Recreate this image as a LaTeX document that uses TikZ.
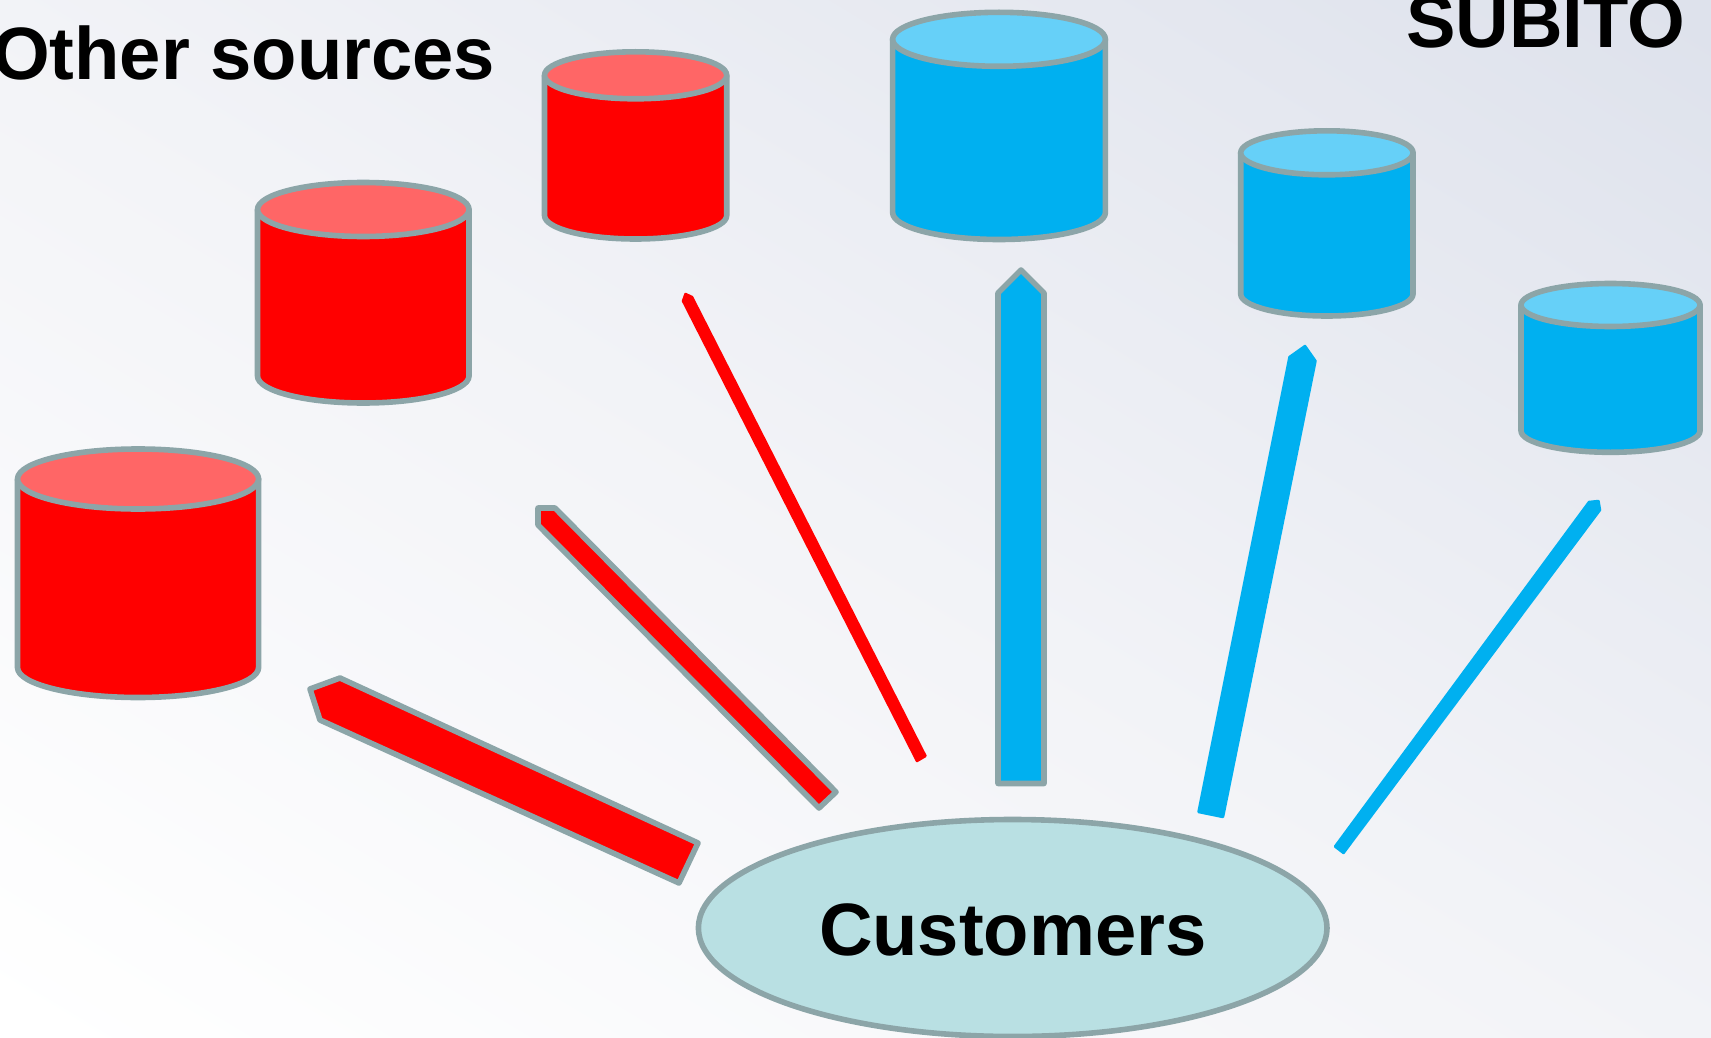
\documentclass[tikz,border=0pt]{standalone}
\usepackage{fontspec}
\setmainfont{Liberation Sans}
\usetikzlibrary{shapes.geometric}
\definecolor{edgegrey}{HTML}{8CA5A8}
\definecolor{redbody}{HTML}{FF0000}
\definecolor{redtop}{HTML}{FF6666}
\definecolor{bluebody}{HTML}{00B0F0}
\definecolor{bluetop}{HTML}{66D0F8}
\definecolor{custfill}{HTML}{B9E0E3}
\definecolor{bgdark}{HTML}{DEE2EC}
\definecolor{bgmid}{HTML}{F2F3F7}
\pgfdeclareverticalshading{bgfade}{100bp}{
  color(0bp)=(white); color(32bp)=(white); color(50bp)=(bgmid); color(68bp)=(bgdark); color(100bp)=(bgdark)}
\tikzset{
  edged/.style={draw=edgegrey,line width=5.6pt,line join=round},
  redblock/.style={edged,fill=redbody},
  blueblock/.style={edged,fill=bluebody},
  redplain/.style={fill=redbody,draw=redbody,line width=2.5pt,line join=round},
  blueplain/.style={fill=bluebody,draw=bluebody,line width=2.5pt,line join=round},
  headline/.style={font=\fontsize{74.2}{74.2}\selectfont\bfseries,text=black,anchor=base west,inner sep=0pt,outer sep=0pt},
}
% name, x1, x2, top centre y, ry, bottom y, body, top
\newcommand{\drumshape}[8]{%
  \pgfmathsetmacro{\drumrx}{(#3-#2)/2}%
  \pgfmathsetmacro{\drumcx}{(#3+#2)/2}%
  \pgfmathsetmacro{\drumend}{#6-#5}%
  \path[edged,fill=#7] (#2,-#4) -- (#2,-\drumend)
     arc[x radius=\drumrx,y radius=#5,start angle=180,end angle=360]
     -- (#3,-#4) -- cycle;
  \path[edged,fill=#8] (\drumcx,-#4) ellipse[x radius=\drumrx,y radius=#5];
  \coordinate (#1) at (\drumcx,-#4);
}
\begin{document}
\begin{tikzpicture}[x=1pt,y=1pt]
\useasboundingbox (0,-1038) rectangle (1711,0);
\begin{scope}
  \clip (0,-1038) rectangle (1711,0);
  \shade[shading=bgfade,shading angle=-31] (-345,-1719) rectangle (2055,681);
\end{scope}

\drumshape{drumA}{17.5}{258.6}{479}{30}{697.5}{redbody}{redtop}
\drumshape{drumB}{257.5}{469}{209.5}{27}{403}{redbody}{redtop}
\drumshape{drumC}{544.5}{726.7}{75.3}{23.5}{239}{redbody}{redtop}
\drumshape{drumD}{892.6}{1105.4}{39.3}{27}{239.5}{bluebody}{bluetop}
\drumshape{drumE}{1240.7}{1413}{152.8}{22}{316}{bluebody}{bluetop}
\drumshape{drumF}{1521}{1700}{305}{21.5}{452.3}{bluebody}{bluetop}

\path[redblock] (310,-689) -- (340,-678) -- (698,-843) -- (679,-883) -- (320,-720) -- cycle;
\path[redblock] (538,-508) -- (555,-508) -- (836,-792) -- (819,-808) -- (538,-525) -- cycle;
\path[redplain] (683,-301) -- (685.5,-294) -- (692,-297) -- (925.5,-756) -- (917,-761) -- cycle;
\path[blueblock] (1021,-270) -- (1044,-293) -- (1044,-783.5) -- (998,-783.5) -- (998,-293) -- cycle;
\path[blueplain] (1289.5,-357) -- (1305,-346) -- (1315.5,-361) -- (1223,-817) -- (1198.5,-812) -- cycle;
\path[blueplain] (1589,-502) -- (1598.5,-501) -- (1600,-510) -- (1343.5,-853) -- (1335,-846.5) -- cycle;

\node[ellipse,draw=edgegrey,line width=5.6pt,fill=custfill,minimum width=628.6pt,minimum height=217pt,inner sep=0pt] (customers) at (1012.7,-928) {};
\node[headline] (customerslabel) at (819,-955) {Customers};
\node[headline] (otherlabel) at (-8,-80) {Other sources};
\node[headline] (subitolabel) at (1406,-48) {SUBITO};
\end{tikzpicture}
\end{document}
